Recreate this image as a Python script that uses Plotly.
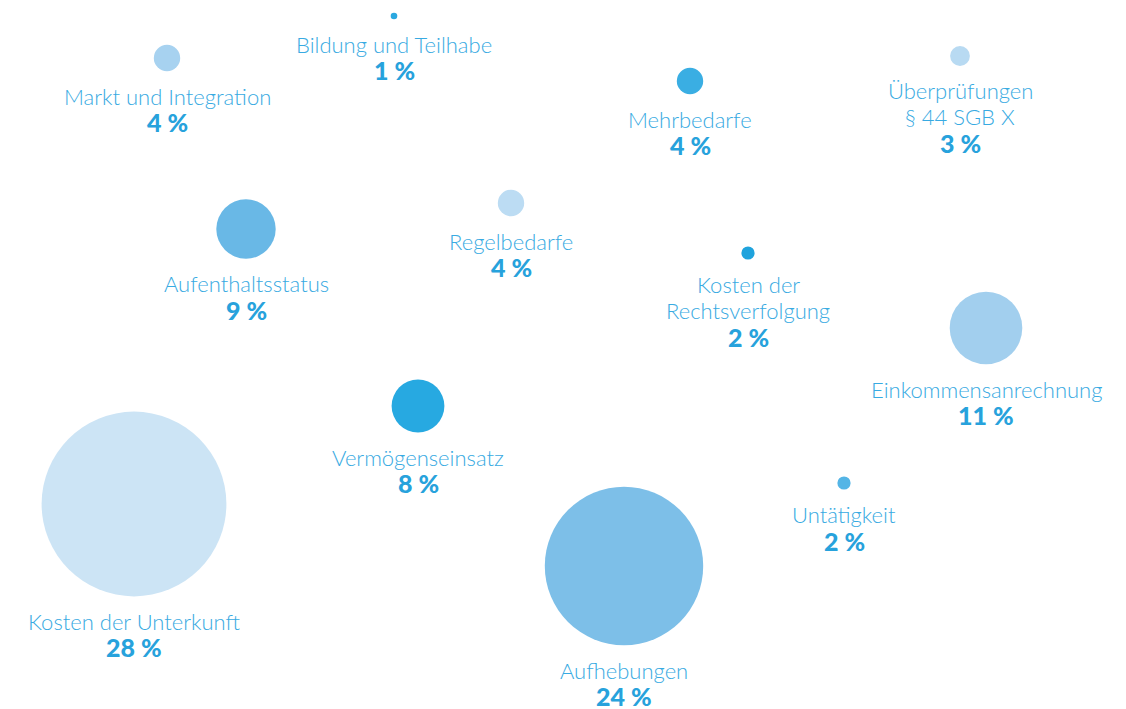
import plotly.graph_objects as go

categories = ["Kosten der Unterkunft", "Aufhebungen", "Einkommensanrechnung", "Aufenthaltsstatus",
              "Vermögenseinsatz", "Markt und Integration", "Mehrbedarfe", "Regelbedarfe",
              "Überprüfungen<br>§ 44 SGB X", "Kosten der<br>Rechtsverfolgung", "Untätigkeit",
              "Bildung und Teilhabe"]
shares = [28, 24, 11, 9, 8, 4, 4, 4, 3, 2, 2, 1]

# layout positions (pixel space) and colours
pos_x = [134, 624, 986, 246, 418, 167, 690, 511, 960, 748, 844, 394]
pos_y = [504, 566, 328, 229, 406, 58, 81, 203, 56, 253, 483, 16]
colors = ["#cce4f5", "#7dbfe8", "#a2cfee", "#69b8e6", "#27a9e1", "#a7d2f0", "#3aaee3",
          "#bcdcf3", "#b8daf2", "#1fa3dd", "#54b5e6", "#2aa8e0"]

SCALE = 6.6
sizes = [v * SCALE for v in shares]

# page has an 8px body margin; compensate so pixel coordinates line up
OFF = 8
W, H = 1126, 709

fig = go.Figure()
fig.add_trace(go.Scatter(
    x=pos_x, y=pos_y, mode="markers",
    marker=dict(size=sizes, sizemode="diameter", color=colors, line=dict(width=0), opacity=1),
    hoverinfo="text", text=[f"{c}: {v} %" for c, v in zip(categories, shares)],
))

LINE = 26
for c, v, x, y, s in zip(categories, shares, pos_x, pos_y, sizes):
    name_y = y + s / 2 + 25
    lines = c.split("<br>")
    for i, ln in enumerate(lines):
        fig.add_annotation(x=x, y=name_y + LINE * i, text=ln, showarrow=False,
                           xanchor="center", yanchor="middle",
                           font=dict(family="Lato", size=22, color="#38aae2", weight=300))
    fig.add_annotation(x=x, y=name_y + LINE * len(lines), text=f"{v} %", showarrow=False,
                       xanchor="center", yanchor="middle",
                       font=dict(family="Lato", size=25, color="#27a2dc", weight=900))

fig.update_layout(
    width=W - OFF, height=H - OFF, margin=dict(l=0, r=0, t=0, b=0, pad=0),
    paper_bgcolor="white", plot_bgcolor="white", showlegend=False,
    xaxis=dict(range=[OFF, W], visible=False, fixedrange=True),
    yaxis=dict(range=[H, OFF], visible=False, fixedrange=True),
)
fig.write_html("out.html")
